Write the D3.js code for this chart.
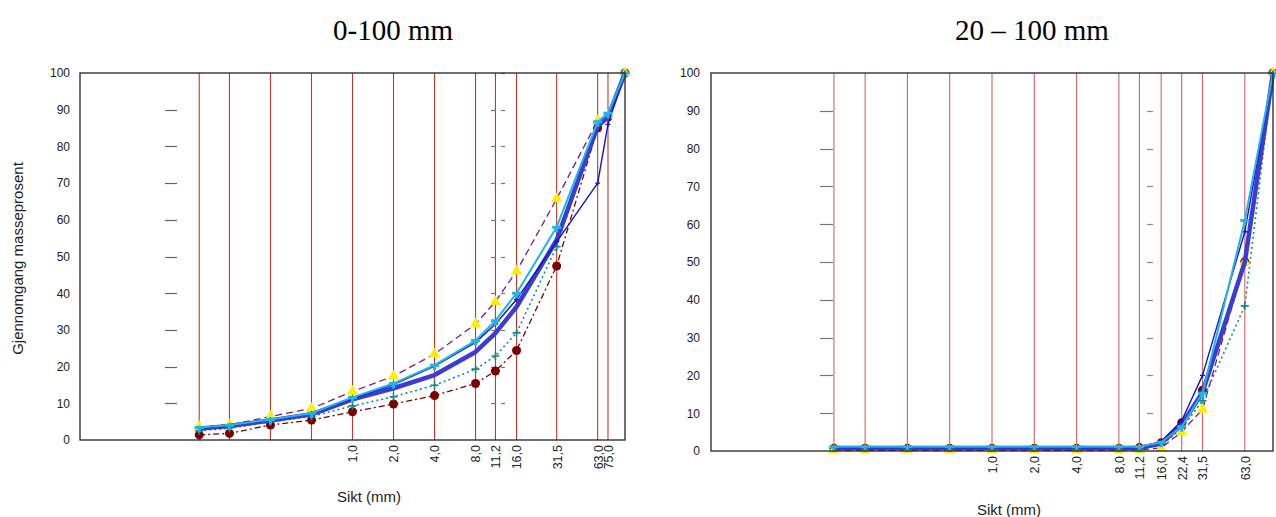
<!DOCTYPE html>
<html>
<head>
<meta charset="utf-8">
<script src="https://cdn.jsdelivr.net/npm/d3@7"></script>
<style>
	body { margin: 0; background: #fff; }
	svg text { font-family: "Liberation Sans", Arial, sans-serif; fill: #222; }
</style>
</head>
<body>
<div id="chart"></div>
<script>
// Sieve sizes (mm)
const sievesLeft = [0.075, 0.125, 0.25, 0.5, 1, 2, 4, 8, 11.2, 16, 31.5, 63, 75, 100];
const sievesRight = [0.075, 0.125, 0.25, 0.5, 1, 2, 4, 8, 11.2, 16, 22.4, 31.5, 63, 100];
const gridLeft = [0.075, 0.125, 0.25, 0.5, 1, 2, 4, 8, 11.2, 16, 31.5, 63, 75];
const gridRight = [0.075, 0.125, 0.25, 0.5, 1, 2, 4, 8, 11.2, 16, 22.4, 31.5, 63];
const tickSievesLeft = [1, 2, 4, 8, 11.2, 16, 31.5, 63, 75];
const tickLabelsLeft = ["1,0", "2,0", "4,0", "8,0", "11,2", "16,0", "31,5", "63,0", "75,0"];
const tickSievesRight = [1, 2, 4, 8, 11.2, 16, 22.4, 31.5, 63];
const tickLabelsRight = ["1,0", "2,0", "4,0", "8,0", "11,2", "16,0", "22,4", "31,5", "63,0"];
const yTicks = [0, 10, 20, 30, 40, 50, 60, 70, 80, 90, 100];

// Passing (%) - 0-100 mm
const upperLeft     = [3.6, 4.1, 6.4, 8.6, 13.2, 17.4, 23.4, 31.6, 37.7, 46, 65.7, 87, 88.5, 100];
const cyanLeft      = [3.4, 4.0, 5.6, 7.3, 11.6, 15.4, 20.4, 27.1, 32.5, 40, 58, 86.7, 89, 100];
const thinBlueLeft  = [3.2, 3.9, 5.5, 7.2, 11.3, 15.1, 20.1, 26.6, 31.6, 38.3, 54, 70, 86, 100];
const thickBlueLeft = [3.1, 3.8, 5.3, 7.0, 11.1, 14.1, 17.7, 24, 29.1, 36.3, 54.5, 85.5, 88, 100];
const tealLeft      = [2.5, 3.2, 5.0, 6.4, 9.3, 11.8, 14.9, 19.3, 22.9, 29.2, 52.7, 86, 88, 100];
const redLeft       = [1.4, 1.8, 4.1, 5.4, 7.7, 9.8, 12.1, 15.4, 18.8, 24.4, 47.4, 85, 88, 100];

// Passing (%) - 20-100 mm
const upperRight     = [0.2, 0.2, 0.2, 0.2, 0.2, 0.2, 0.2, 0.2, 0.3, 0.8, 5.1, 11, 50, 100];
const cyanRight      = [1.1, 1.1, 1.1, 1.1, 1.1, 1.1, 1.1, 1.1, 1.1, 2.3, 6.4, 15.3, 61, 100];
const thinBlueRight  = [0.9, 0.9, 0.9, 0.9, 0.9, 0.9, 0.9, 0.9, 0.9, 2.5, 8, 20, 58, 100];
const thickBlueRight = [0.8, 0.8, 0.8, 0.8, 0.8, 0.8, 0.8, 0.8, 0.8, 2, 7, 15.5, 50, 100];
const tealRight      = [0.6, 0.6, 0.6, 0.6, 0.6, 0.6, 0.6, 0.6, 0.6, 1.5, 6, 13.3, 38.4, 100];
const redRight       = [0.7, 0.7, 0.7, 0.7, 0.7, 0.7, 0.7, 0.7, 0.9, 2.2, 7.5, 16.1, 50.1, 100];

// line + marker styles
const styles = {
	red:   { color: "#7a0000", width: 1.3, dash: "6,3,2,3", marker: "circle", fill: "#7a0000" },
	teal:  { color: "#108c8c", width: 1.6, dash: "2,3", marker: "plus", fill: "#108c8c" },
	upper: { color: "#7a1a8a", width: 1.3, dash: "7,4", marker: "triangle", fill: "#ffee00" },
	thick: { color: "#3c3cd2", width: 4.5, dash: null, marker: null },
	thin:  { color: "#1414c8", width: 1.4, dash: null, marker: "small", fill: "#1414c8" },
	cyan:  { color: "#22b4e6", width: 2, dash: null, marker: "bar", fill: "#22b4e6" }
};

class GradingChart {
	svg; g; box;
	scaleX; scaleY;

	constructor(svg, box) {
		this.svg = svg;
		this.box = box;
		this.g = svg.append("g");
		this.scaleX = d3.scaleLog([0.01, 100], [box.left, box.right]);
		this.scaleY = d3.scaleLinear([0, 100], [box.bottom, box.top]);
	}

	title(text) {
		this.g.append("text")
			.attr("x", this.box.titleX).attr("y", 40)
			.attr("text-anchor", "middle")
			.style("font-family", "'Liberation Serif', 'Times New Roman', serif")
			.style("font-size", "29px").style("fill", "#000")
			.text(text);
		return this;
	}

	grid(sieves, color) {
		this.g.append("g").selectAll("line")
			.data(sieves).join("line")
			.attr("x1", (d) => this.scaleX(d)).attr("x2", (d) => this.scaleX(d))
			.attr("y1", this.box.top).attr("y2", this.box.bottom)
			.attr("stroke", color).attr("stroke-width", 1.1);
		return this;
	}

	// stray little dashes left over in the original
	dashes(x1, x2, levels, color) {
		this.g.append("g").selectAll("line")
			.data(levels).join("line")
			.attr("x1", x1).attr("x2", x2)
			.attr("y1", (d) => Math.round(this.scaleY(d)) + 0.5)
			.attr("y2", (d) => Math.round(this.scaleY(d)) + 0.5)
			.attr("stroke", color).attr("stroke-width", 1.2);
		return this;
	}

	axes(xTicks, xLabels) {
		let axisY = d3.axisLeft(this.scaleY).tickValues(yTicks).tickSize(0).tickPadding(0);
		this.g.append("g")
			.attr("transform", `translate(${this.box.labelX},0)`)
			.call(axisY)
			.call((a) => a.select(".domain").remove())
			.call((a) => a.selectAll("text").style("font-size", "12px").style("font-family", null).attr("fill", "#222"));

		let axisX = d3.axisBottom(this.scaleX).tickValues(xTicks)
			.tickFormat((d, i) => xLabels[i]).tickSize(0);
		this.g.append("g")
			.attr("transform", `translate(0,${this.box.bottom})`)
			.call(axisX)
			.call((a) => a.select(".domain").remove())
			.call((a) => a.selectAll("text")
				.attr("transform", "rotate(-90)")
				.attr("x", -5).attr("y", 0).attr("dy", "0.35em")
				.style("text-anchor", "end").style("font-size", "12.5px")
				.style("font-family", null).attr("fill", "#222"));
		return this;
	}

	frame() {
		let b = this.box;
		this.g.append("rect")
			.attr("x", b.left).attr("y", b.top)
			.attr("width", b.right - b.left).attr("height", b.bottom - b.top)
			.attr("fill", "none").attr("stroke", "#222").attr("stroke-width", 1.3);
		return this;
	}

	labels(xTitle, yTitle) {
		let b = this.box;
		this.g.append("text")
			.attr("x", b.xTitleX).attr("y", b.xTitleY)
			.attr("text-anchor", "middle").style("font-size", "15px")
			.text(xTitle);
		if (yTitle) {
			this.g.append("text")
				.attr("transform", `translate(23,${(b.top + b.bottom) / 2 + 2}) rotate(-90)`)
				.attr("text-anchor", "middle").style("font-size", "15px")
				.text(yTitle);
		}
		return this;
	}

	series(sieves, values, st) {
		let pts = sieves.map((s, i) => [this.scaleX(s), this.scaleY(values[i])]);
		let line = d3.line();
		let s = this.g.append("g");
		s.append("path")
			.attr("d", line(pts))
			.attr("fill", "none")
			.attr("stroke", st.color).attr("stroke-width", st.width)
			.attr("stroke-dasharray", st.dash)
			.attr("stroke-linejoin", "round");

		if (st.marker == "circle") {
			s.selectAll("circle").data(pts).join("circle")
				.attr("cx", (d) => d[0]).attr("cy", (d) => d[1]).attr("r", 4.5)
				.attr("fill", st.fill);
		} else if (st.marker == "triangle") {
			s.selectAll("path.m").data(pts).join("path").classed("m", true)
				.attr("d", d3.symbol(d3.symbolTriangle, 55))
				.attr("transform", (d) => `translate(${d[0]},${d[1]})`)
				.attr("fill", st.fill);
		} else if (st.marker == "plus") {
			s.selectAll("path.m").data(pts).join("path").classed("m", true)
				.attr("d", (d) => `M${d[0] - 4},${d[1]}h8M${d[0]},${d[1] - 4}v8`)
				.attr("stroke", st.fill).attr("stroke-width", 1.6);
		} else if (st.marker == "small") {
			s.selectAll("path.m").data(pts).join("path").classed("m", true)
				.attr("d", (d) => `M${d[0] - 2.5},${d[1]}h5M${d[0]},${d[1] - 2.5}v5`)
				.attr("stroke", st.fill).attr("stroke-width", 1.4);
		} else if (st.marker == "bar") {
			s.selectAll("path.m").data(pts).join("path").classed("m", true)
				.attr("d", (d) => `M${d[0] - 4.5},${d[1]}h9M${d[0]},${d[1]}v5`)
				.attr("stroke", st.fill).attr("stroke-width", 3);
		}
		return this;
	}
}

const svg = d3.select("#chart").append("svg")
	.attr("width", 1276).attr("height", 517);

const levels = [10, 20, 30, 40, 50, 60, 70, 80, 90];

// 0-100 mm
new GradingChart(svg, { left: 80, right: 625, top: 73, bottom: 440, labelX: 70, titleX: 393, xTitleX: 369, xTitleY: 502 })
	.title("0-100 mm")
	.grid(gridLeft, "#c0392b")
	.dashes(165, 177, levels, "#666")
	.dashes(491, 496, levels, "#777")
	.dashes(501, 505, levels.concat([100]), "#777")
	.axes(tickSievesLeft, tickLabelsLeft)
	.labels("Sikt (mm)", "Gjennomgang masseprosent")
	.series(sievesLeft, redLeft, styles.red)
	.series(sievesLeft, tealLeft, styles.teal)
	.series(sievesLeft, upperLeft, styles.upper)
	.series(sievesLeft, thickBlueLeft, styles.thick)
	.series(sievesLeft, thinBlueLeft, styles.thin)
	.series(sievesLeft, cyanLeft, styles.cyan)
	.frame();

// 20-100 mm
new GradingChart(svg, { left: 711, right: 1273, top: 73, bottom: 451, labelX: 700, titleX: 1032, xTitleX: 1009, xTitleY: 515 })
	.title("20 – 100 mm")
	.grid(gridRight, "#cc6666")
	.dashes(820, 833, levels, "#777")
	.dashes(1147, 1153, levels, "#888")
	.axes(tickSievesRight, tickLabelsRight)
	.labels("Sikt (mm)", null)
	.series(sievesRight, redRight, styles.red)
	.series(sievesRight, tealRight, styles.teal)
	.series(sievesRight, upperRight, styles.upper)
	.series(sievesRight, thickBlueRight, styles.thick)
	.series(sievesRight, thinBlueRight, styles.thin)
	.series(sievesRight, cyanRight, styles.cyan)
	.frame();
</script>
</body>
</html>
